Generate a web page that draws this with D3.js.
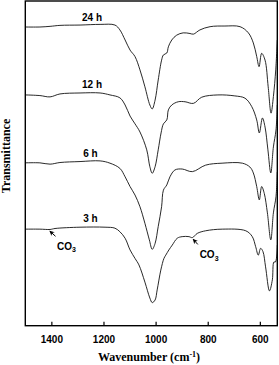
<!DOCTYPE html>
<html>
<head>
<meta charset="utf-8">
<script src="https://cdn.jsdelivr.net/npm/d3@7"></script>
<style>
  body { margin: 0; background: #fff; }
  svg { display: block; }
</style>
</head>
<body>
<script>
// FTIR spectra, transmittance in arbitrary units (stacked), wavenumber in cm-1
var spec24 = [[1500,92.0],[1444,92.0],[1405,92.2],[1367,92.5],[1290,92.6],[1213,92.8],[1156,92.6],[1137,91.1],[1117,88.0],[1098,84.9],[1079,82.9],[1060,78.8],[1041,73.6],[1022,68.0],[1013,66.8],[1002,69.5],[990,75.7],[977,81.8],[970,83.4],[957,84.0],[951,85.9],[938,88.0],[919,89.5],[894,90.2],[868,90.0],[855,89.8],[830,91.1],[791,92.1],[734,92.3],[676,92.1],[644,90.2],[625,87.1],[612,82.9],[603,79.8],[593,83.9],[580,81.8],[568,73.6],[557,65.5],[548,70.6],[539,78.8],[533,88.0]];
var spec12 = [[1500,71.1],[1444,70.9],[1405,70.5],[1367,71.4],[1290,71.7],[1213,71.7],[1175,71.1],[1137,70.2],[1117,68.0],[1098,64.6],[1079,62.2],[1060,59.7],[1034,54.2],[1022,49.0],[1013,47.0],[1002,49.0],[990,54.2],[979,59.4],[970,62.2],[957,63.4],[951,66.5],[938,68.0],[913,69.0],[887,69.0],[855,68.5],[823,70.4],[761,71.1],[696,70.8],[657,70.1],[631,67.5],[612,63.4],[602,59.4],[590,64.0],[580,61.2],[569,54.2],[558,47.1],[548,55.1],[538,60.3],[533,68.0]];
var spec6 = [[1500,50.2],[1444,50.2],[1405,49.8],[1367,50.3],[1290,50.6],[1213,50.8],[1175,50.1],[1137,48.5],[1117,45.9],[1098,42.9],[1079,40.3],[1060,36.7],[1041,31.6],[1024,26.5],[1013,23.6],[1002,25.4],[990,30.6],[977,36.7],[970,41.8],[957,43.4],[945,45.9],[926,48.0],[898,48.3],[859,47.5],[808,49.5],[745,50.1],[667,50.1],[638,48.9],[625,47.1],[612,42.9],[602,38.8],[593,42.9],[583,40.8],[571,34.8],[558,26.5],[548,34.8],[538,39.8],[533,47.4]];
var spec3 = [[1500,29.8],[1444,29.8],[1405,29.7],[1386,30.0],[1290,30.4],[1194,30.4],[1156,30.1],[1137,29.0],[1117,27.0],[1098,23.4],[1079,20.8],[1064,18.8],[1041,13.5],[1022,8.6],[1013,7.2],[1002,8.0],[994,11.1],[980,17.2],[968,20.8],[961,21.8],[949,23.4],[936,24.9],[917,27.0],[898,27.5],[872,27.5],[859,27.2],[840,28.5],[808,29.3],[744,29.8],[654,29.3],[629,27.5],[616,24.4],[606,21.8],[597,23.9],[588,22.9],[578,18.2],[563,10.8],[552,14.2],[546,19.7],[540,19.7],[533,24.9]];

var seriesNames = ["24 h", "12 h", "6 h", "3 h"];
var labelPos = [[1244, 93.7], [1244, 73.2], [1250, 52.0], [1250, 32.1]];
var xTicks = [1400, 1200, 1000, 800, 600];
// carbonate marks: arrow tail, arrow head, text anchor
var co3Marks = [
  {tail: [1384, 27.6], head: [1406, 29.2], text: [1378, 23.4]},
  {tail: [838, 25.1], head: [856, 26.7], text: [831, 20.9]}
];

var width = 279, height = 365;
var plot = {left: 25.3, right: 277.3, top: 1, bottom: 325.7};

var svg = d3.select("body").append("svg")
    .attr("width", width)
    .attr("height", height);

var x = d3.scaleLinear().domain([1500, 533]).range([plot.left, plot.right]);
var y = d3.scaleLinear().domain([0, 100]).range([326, 1]);

var defs = svg.append("defs");
defs.append("clipPath").attr("id", "clip")
  .append("rect")
    .attr("x", plot.left).attr("y", plot.top)
    .attr("width", plot.right - plot.left)
    .attr("height", plot.bottom - plot.top);

var marker = defs.append("marker")
    .attr("id", "arrow")
    .attr("viewBox", "0 0 10 10")
    .attr("refX", 9).attr("refY", 5)
    .attr("markerWidth", 5).attr("markerHeight", 5)
    .attr("orient", "auto");
marker.append("path").attr("d", "M0,0L10,5L0,10L3,5z").attr("fill", "#000");

var line = d3.line()
  .curve(d3.curveCatmullRom.alpha(0.5))
  .x(function(d) { return x(d[0]); })
  .y(function(d) { return y(d[1]); });

var allSpec = [spec24, spec12, spec6, spec3];

svg.append("g").attr("clip-path", "url(#clip)")
  .selectAll("path")
  .data(allSpec)
  .enter().append("path")
    .attr("d", line)
    .attr("fill", "none")
    .attr("stroke", "#111")
    .attr("stroke-width", 0.9);

// frame
svg.append("rect")
  .attr("x", plot.left).attr("y", plot.top)
  .attr("width", plot.right - plot.left)
  .attr("height", plot.bottom - plot.top)
  .attr("fill", "none")
  .attr("stroke", "#000")
  .attr("stroke-width", 1.4);

// x axis, ticks pointing inward
var xAxis = svg.append("g")
  .attr("transform", "translate(0," + plot.bottom + ")")
  .call(d3.axisBottom(x).tickValues(xTicks).tickSize(-4).tickPadding(10).tickFormat(d3.format("d")));
xAxis.select(".domain").remove();
xAxis.selectAll("line").attr("stroke-width", 1.2);
xAxis.selectAll("text")
  .style("font-family", "Arial, 'Liberation Sans', sans-serif")
  .style("font-weight", "bold")
  .style("font-size", "10px");

// axis titles
var xt = svg.append("text")
  .attr("x", 149).attr("y", 361)
  .attr("text-anchor", "middle")
  .style("font-family", "'Times New Roman', 'Liberation Serif', serif")
  .style("font-weight", "bold")
  .style("font-size", "12px")
  .text("Wavenumber (cm");
xt.append("tspan").attr("dy", -4).style("font-size", "8px").text("-1");
xt.append("tspan").attr("dy", 4).text(")");

svg.append("text")
  .attr("transform", "translate(10,156) rotate(-90)")
  .attr("text-anchor", "middle")
  .style("font-family", "'Times New Roman', 'Liberation Serif', serif")
  .style("font-weight", "bold")
  .style("font-size", "12px")
  .text("Transmittance");

// series labels
svg.selectAll(".lbl")
  .data(seriesNames)
  .enter().append("text")
    .attr("class", "lbl")
    .attr("x", function(d, i) { return x(labelPos[i][0]); })
    .attr("y", function(d, i) { return y(labelPos[i][1]); })
    .attr("text-anchor", "middle")
    .style("font-family", "Arial, 'Liberation Sans', sans-serif")
    .style("font-weight", "bold")
    .style("font-size", "10px")
    .text(function(d) { return d; });

// CO3 annotations
co3Marks.forEach(function(m) {
  svg.append("line")
    .attr("x1", x(m.tail[0])).attr("y1", y(m.tail[1]))
    .attr("x2", x(m.head[0])).attr("y2", y(m.head[1]))
    .attr("stroke", "#000").attr("stroke-width", 1)
    .attr("marker-end", "url(#arrow)");
  var t = svg.append("text")
    .attr("x", x(m.text[0])).attr("y", y(m.text[1]))
    .style("font-family", "Arial, 'Liberation Sans', sans-serif")
    .style("font-weight", "bold")
    .style("font-size", "10px")
    .text("CO");
  t.append("tspan").attr("dy", 2.5).style("font-size", "7px").text("3");
});
</script>
</body>
</html>
